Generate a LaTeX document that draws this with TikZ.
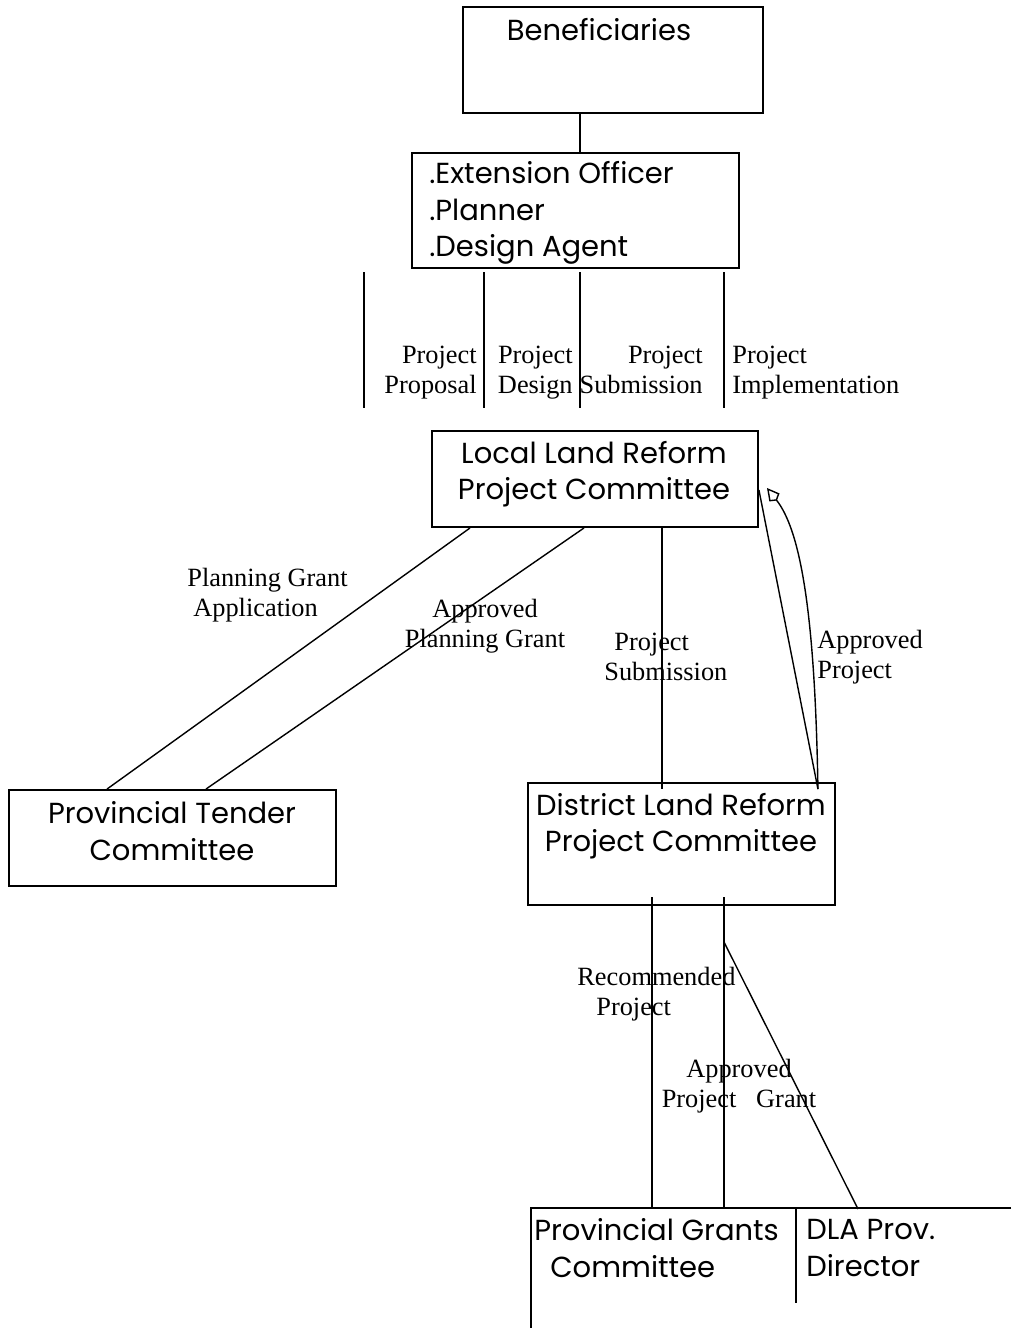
\documentclass[tikz,border=0pt]{standalone}
\usepackage{fontspec}
\setmainfont{Liberation Serif}
\newfontfamily\gothic{Poppins}
\usetikzlibrary{arrows.meta, positioning}

\tikzset{
  box/.style={draw, line width=1.1pt, inner sep=0pt},
  boxtext/.style={font=\gothic\fontsize{16.5}{20.8}\selectfont, inner sep=0pt},
  lbl/.style={font=\fontsize{15}{17}\selectfont, inner sep=0pt},
  link/.style={line width=0.8pt}
}

\begin{document}
\begin{tikzpicture}[x=0.02cm, y=-0.02cm]
    \useasboundingbox (0,0) rectangle (1011,1328);

    % Boxes
    \node[box, minimum width=6cm, minimum height=2.12cm] (benef) at (613,60) {};
    \node[box, minimum width=6.54cm, minimum height=2.3cm] (staff) at (575.5,210.5) {};
    \node[box, minimum width=6.52cm, minimum height=1.92cm] (local) at (595,479) {};
    \node[box, minimum width=6.54cm, minimum height=1.92cm] (tender) at (172.5,838) {};
    \node[box, minimum width=6.14cm, minimum height=2.44cm] (district) at (681.5,844) {};
    \coordinate (grants) at (531,1208);
    \draw[box] (1011,1208) -- (grants) -- (531,1328);
    \draw[box] (796,1208) coordinate (split) -- (796,1303);

    % Box texts
    \node[boxtext] (benefT) at (599,30) {Beneficiaries};
    \node[boxtext, align=left, anchor=west] (staffT) at (429,213) {.Extension Officer\\.Planner\\.Design Agent};
    \node[boxtext, align=center] (localT) at (594,474) {Local Land Reform\\Project Committee};
    \node[boxtext, align=center] (tenderT) at (172,831) {Provincial Tender\\Committee};
    \node[boxtext, align=center] (districtT) at (681,826) {District Land Reform\\Project Committee};
    \node[boxtext, align=left, anchor=west] (grantsT) at (534,1248) {Provincial Grants\\\hspace{0.32cm}Committee};
    \node[boxtext, align=left, anchor=west] (dlaT) at (806,1248) {DLA Prov.\\Director};

    % Beneficiaries to staff
    \draw[link] (benef.south -| 580,0) -- (staff.north -| 580,0);

    % Project stages
    \foreach \x/\n in {364/a,484/b,580/c,724/d}
        \draw[link] (\x,272) coordinate (top\n) -- (\x,408) coordinate (bot\n);
    \node[lbl, align=right, anchor=north east] (propL) at (477,346) {Project\\Proposal};
    \node[lbl, align=right, anchor=north east] (desL) at (573,346) {Project\\Design};
    \node[lbl, align=right, anchor=north east] (subL) at (703,346) {Project\\Submission};
    \node[lbl, align=left, anchor=north west] (implL) at (732,346) {Project\\Implementation};

    % Local committee to tender committee
    \draw[link] ([xshift=-2.5cm]local.south) -- ([xshift=-1.31cm]tender.north);
    \draw[link] ([xshift=-0.22cm]local.south) -- ([xshift=0.67cm]tender.north);
    \node[lbl, align=left, anchor=west] (pgaL) at (187,595) {Planning Grant\\\hspace{0.12cm}Application};
    \node[lbl, align=center] (apgL) at (485,626) {Approved\\Planning Grant};

    % Local committee to district committee
    \draw[link] ([xshift=1.34cm]local.south) -- ([xshift=1.34cm,yshift=-0.14cm]local.south |- district.north);
    \node[lbl, align=left, anchor=west] (psL) at (604,657) {\hspace{0.2cm}Project\\Submission};
    \coordinate (dl) at ([xshift=-0.36cm,yshift=-0.14cm]district.north east);
    \draw[link] ([yshift=-0.22cm]local.east) -- (dl);
    \draw[link, -{Kite[open, length=3.2mm, width=2.6mm]}] (dl) .. controls (815,610) and (800,530) .. (767,488);
    \node[lbl, align=left, anchor=west] (apL) at (817,657) {Approved\\Project};

    % District committee to grants committee
    \draw[link] (652,897) -- (652,1208);
    \draw[link] (724,897) -- (724,1208);
    \coordinate (fork) at (724,942);
    \draw[link] (fork) -- (858,1209);
    \node[lbl, align=left, anchor=west] (recL) at (577,994) {Recommended\\\hspace{0.38cm}Project};
    \node[lbl, align=center] (apgrL) at (739,1086) {Approved\\Project\ \ \ Grant};
\end{tikzpicture}
\end{document}
